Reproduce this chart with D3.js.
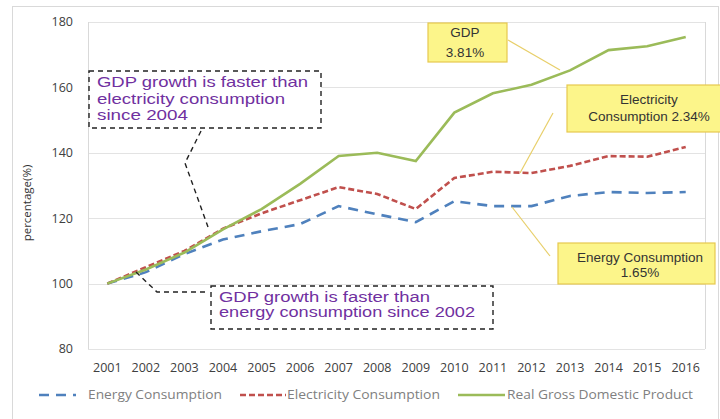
<!DOCTYPE html>
<html>
<head>
<meta charset="utf-8">
<script src="https://cdn.jsdelivr.net/npm/d3@7"></script>
<style>
  html, body { margin: 0; padding: 0; background: #fff; }
  svg { display: block; }
</style>
</head>
<body>
<div id="chart"></div>
<script>
// Growth index, 2001 = 100
const years = ['2001','2002','2003','2004','2005','2006','2007','2008','2009','2010','2011','2012','2013','2014','2015','2016'];
const energy = [100, 103.5, 109, 113.5, 116, 118.2, 123.7, 121.2, 118.8, 125.2, 123.7, 123.7, 126.8, 128, 127.7, 128];
const electricity = [100, 105, 110, 116.8, 121.5, 125.5, 129.5, 127.4, 122.8, 132.3, 134.2, 133.8, 136, 139, 138.8, 141.8];
const gdp = [100, 104.3, 109.5, 116.6, 122.8, 130.5, 139, 140, 137.5, 152.3, 158.2, 160.8, 165.2, 171.4, 172.6, 175.4];
const yTicks = [80, 100, 120, 140, 160, 180];

const seriesNames = ['Energy Consumption', 'Electricity Consumption', 'Real Gross Domestic Product'];
const seriesColors = ['#4f81bd', '#c0504d', '#9bbb59'];
const seriesDash = ['10,7', '6,3', null];

const width = 720, height = 419;
const margin = {left: 88, right: 15, top: 22, bottom: 70};

const svg = d3.select('#chart').append('svg')
  .attr('width', width)
  .attr('height', height);

// outer chart border
svg.append('rect')
  .attr('x', 12.5).attr('y', 6.5)
  .attr('width', 706).attr('height', 420)
  .attr('fill', '#fff')
  .attr('stroke', '#d9d9d9');

const x = d3.scalePoint()
  .domain(years)
  .range([margin.left, width - margin.right])
  .padding(0.5);

const y = d3.scaleLinear()
  .domain([80, 180])
  .range([349, margin.top]);

// gridlines
svg.append('g')
  .selectAll('line')
  .data(yTicks)
  .enter()
  .append('line')
  .attr('x1', margin.left)
  .attr('x2', width - margin.right)
  .attr('y1', d => Math.round(y(d)) + 0.5)
  .attr('y2', d => Math.round(y(d)) + 0.5)
  .attr('stroke', '#e3e3e3');

// plot frame sides
svg.append('line')
  .attr('x1', margin.left + 0.5).attr('x2', margin.left + 0.5)
  .attr('y1', y(180)).attr('y2', y(80))
  .attr('stroke', '#d9d9d9');
svg.append('line')
  .attr('x1', width - margin.right + 0.5).attr('x2', width - margin.right + 0.5)
  .attr('y1', y(180)).attr('y2', y(80))
  .attr('stroke', '#d9d9d9');

// y tick labels
svg.append('g')
  .selectAll('text')
  .data(yTicks)
  .enter()
  .append('text')
  .attr('x', 73)
  .attr('y', d => y(d))
  .attr('dy', '0.35em')
  .attr('text-anchor', 'end')
  .style('font-family', 'Open Sans, sans-serif')
  .style('font-size', '12.5px')
  .attr('fill', '#404040')
  .text(d => d);

// x tick labels
svg.append('g')
  .selectAll('text')
  .data(years)
  .enter()
  .append('text')
  .attr('x', d => x(d))
  .attr('y', 368)
  .attr('dy', '0.35em')
  .attr('text-anchor', 'middle')
  .style('font-family', 'Open Sans, sans-serif')
  .style('font-size', '12.5px')
  .attr('fill', '#404040')
  .text(d => d);

// y axis title
svg.append('text')
  .attr('transform', 'translate(27,203) rotate(-90)')
  .attr('text-anchor', 'middle')
  .attr('dy', '0.35em')
  .style('font-family', 'Open Sans, sans-serif')
  .style('font-size', '11.5px')
  .attr('fill', '#333')
  .text('percentage(%)');

// lines
const line = d3.line()
  .x((d, i) => x(years[i]))
  .y(d => y(d));

[energy, electricity, gdp].forEach((vals, i) => {
  svg.append('path')
    .datum(vals)
    .attr('d', line)
    .attr('fill', 'none')
    .attr('stroke', seriesColors[i])
    .attr('stroke-width', 2.6)
    .attr('stroke-dasharray', seriesDash[i]);
});

// dashed annotation boxes with leaders
function noteBox(x0, y0, w, h, lines, lens, step, size, leader) {
  svg.append('polyline')
    .attr('points', leader.map(p => p.join(',')).join(' '))
    .attr('fill', 'none')
    .attr('stroke', '#222')
    .attr('stroke-width', 1.4)
    .attr('stroke-dasharray', '5,4');
  svg.append('rect')
    .attr('x', x0).attr('y', y0)
    .attr('width', w).attr('height', h)
    .attr('fill', '#fff')
    .attr('stroke', '#222')
    .attr('stroke-width', 1.4)
    .attr('stroke-dasharray', '5,4');
  const t = svg.append('text')
    .style('font-family', 'Liberation Sans, Arial, sans-serif')
    .style('font-size', size + 'px')
    .attr('fill', '#7030a0');
  lines.forEach((s, i) => {
    t.append('tspan')
      .attr('x', x0 + 8)
      .attr('y', y0 + 16 + i * step)
      .attr('textLength', lens[i])
      .attr('lengthAdjust', 'spacingAndGlyphs')
      .text(s);
  });
}

noteBox(89, 71, 232, 57,
  ['GDP growth is faster than', 'electricity consumption', 'since 2004'],
  [211, 188, 91], 16.5, 15,
  [[201, 131], [185, 163], [208, 227]]);

noteBox(211, 286, 282, 43,
  ['GDP growth is faster than', 'energy consumption since 2002'],
  [211, 256], 15, 14,
  [[136, 272], [157, 292], [208, 292]]);

// yellow callouts
function callout(x0, y0, w, h, lines, cx, base, leader) {
  svg.append('line')
    .attr('x1', leader[0][0]).attr('y1', leader[0][1])
    .attr('x2', leader[1][0]).attr('y2', leader[1][1])
    .attr('stroke', '#e8cf6a')
    .attr('stroke-width', 1.2);
  svg.append('rect')
    .attr('x', x0).attr('y', y0)
    .attr('width', w).attr('height', h)
    .attr('fill', '#fcf58a')
    .attr('stroke', '#e6c84f')
    .attr('stroke-width', 1.2);
  const t = svg.append('text')
    .attr('text-anchor', 'middle')
    .style('font-family', 'Liberation Sans, Arial, sans-serif')
    .style('font-size', '13.5px')
    .attr('fill', '#333');
  lines.forEach((s, i) => {
    t.append('tspan').attr('x', cx).attr('y', base[i]).text(s);
  });
}

callout(428, 23, 79, 39, ['GDP', '3.81%'], 465, [37, 57], [[508, 40], [560, 70]]);
callout(567, 85, 160, 47, ['Electricity', 'Consumption 2.34%'], 649, [104, 121], [[553, 113], [520, 173]]);
callout(558, 243, 157, 41, ['Energy Consumption', '1.65%'], 640, [262, 277], [[550, 256], [512, 207]]);

// legend
const legendItems = [
  {x1: 39, x2: 76, tx: 88, len: 134},
  {x1: 240, x2: 286, tx: 287, len: 153},
  {x1: 458, x2: 505, tx: 507, len: 186}
];
const legend = svg.append('g');
legendItems.forEach((d, i) => {
  legend.append('line')
    .attr('x1', d.x1).attr('x2', d.x2)
    .attr('y1', 395).attr('y2', 395)
    .attr('stroke', seriesColors[i])
    .attr('stroke-width', 2.6)
    .attr('stroke-dasharray', seriesDash[i]);
  legend.append('text')
    .attr('x', d.tx)
    .attr('y', 395)
    .attr('dy', '0.35em')
    .attr('textLength', d.len)
    .attr('lengthAdjust', 'spacingAndGlyphs')
    .style('font-family', 'Open Sans, sans-serif')
    .style('font-size', '12px')
    .attr('fill', '#808080')
    .text(seriesNames[i]);
});
</script>
</body>
</html>
